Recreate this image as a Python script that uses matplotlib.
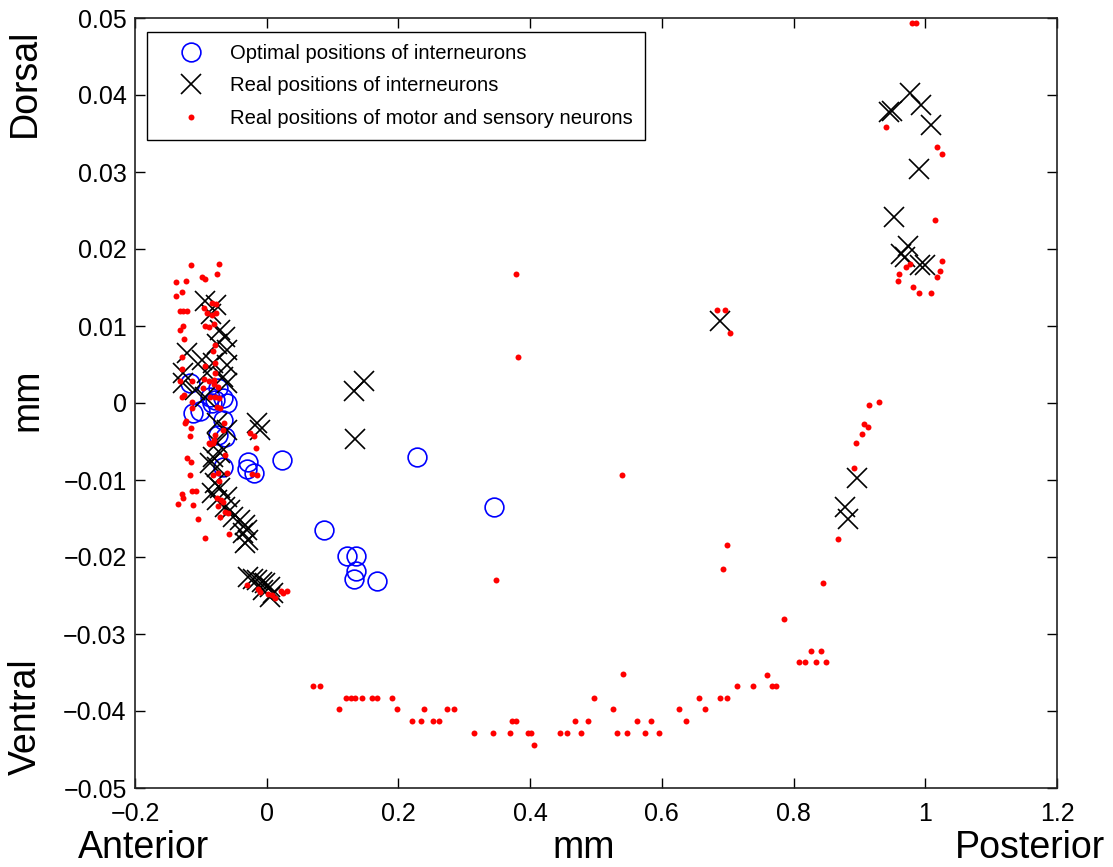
import matplotlib
matplotlib.use("Agg")
from matplotlib import pyplot as plt

# optimal positions of interneurons (blue circles)
opt_x = [-0.1165, -0.1115, -0.101, -0.086, -0.0735, -0.0785, -0.066, -0.061, -0.0836,
         -0.066, -0.0633, -0.0735, -0.066, -0.028, -0.030, -0.0189, 0.0237, 0.0875,
         0.1224, 0.135, 0.1356, 0.133, 0.168, 0.2277, 0.345]
opt_y = [0.0026, -0.0013, -0.0011, 0.0008, 0.0019, 0.0004, 0.0006, 0.0, 0.0,
         -0.0022, -0.0044, -0.0042, -0.0083, -0.0076, -0.0086, -0.0091, -0.0074, -0.0165,
         -0.0199, -0.0199, -0.0218, -0.0229, -0.0231, -0.0070, -0.0135]

# real positions of interneurons (black crosses)
inter_x = [-0.0937, -0.077, -0.085, -0.071, -0.0633, -0.076, -0.061, -0.1216, -0.0988,
           -0.081, -0.061, -0.1267, -0.091, -0.066, -0.1267, -0.061, -0.109, -0.094,
           -0.076, -0.061, -0.015, -0.010, -0.076, -0.081, -0.071, -0.086, -0.076,
           -0.0785, -0.0836, -0.071, -0.076, -0.061, -0.0633, -0.0557, -0.0507, -0.0406,
           -0.033, -0.030, -0.0355, -0.028, -0.033, -0.028, -0.0204, -0.015, -0.0076,
           -0.0026, 0.005, 0.010, -0.0052, 0.005,
           0.1325, 0.147, 0.134, 0.689,
           0.896, 0.878, 0.882, 0.977, 0.994, 0.945, 0.950, 1.008, 0.990, 0.953,
           0.973, 0.963, 0.969, 0.992, 1.000]
inter_y = [0.0132, 0.0127, 0.0115, 0.0095, 0.0086, 0.0077, 0.0069, 0.0065, 0.0056,
           0.0052, 0.0049, 0.0039, 0.0039, 0.0034, 0.0026, 0.0026, 0.0017, 0.0008,
           -0.0026, -0.0035, -0.0026, -0.0035, -0.0052, -0.0070, -0.0065, -0.0078, -0.0083,
           -0.0104, -0.0117, -0.0111, -0.0126, -0.0122, -0.0135, -0.0139, -0.0148, -0.0152,
           -0.0158, -0.0165, -0.0169, -0.0178, -0.0182, -0.0226, -0.0228, -0.0230, -0.0232,
           -0.0234, -0.0239, -0.0247, -0.0243, -0.0252,
           0.0015, 0.0029, -0.0047, 0.0106,
           -0.0098, -0.0135, -0.0151, 0.0403, 0.0387, 0.0378, 0.0379, 0.0361, 0.0304, 0.0242,
           0.0204, 0.0193, 0.0190, 0.0179, 0.0179]

# real positions of motor and sensory neurons (red dots)
ms_x = [-0.1154, -0.073, -0.099, -0.094, -0.076, -0.137, -0.123, -0.128, -0.137,
        -0.0836, -0.077, -0.131, -0.1215, -0.127, -0.095, -0.091, -0.0836, -0.077,
        -0.094, -0.088, -0.080, -0.127, -0.131, -0.125, -0.0785, -0.082, -0.129,
        -0.0785, -0.093, -0.129, -0.0785, -0.132, -0.095, -0.087, -0.0796, -0.114,
        -0.0735, -0.080, -0.0973, -0.129, -0.1256, -0.086, -0.0785, -0.072, -0.113,
        -0.075, -0.071, -0.114, -0.1226, -0.124, -0.0646, -0.1154, -0.067, -0.1165,
        -0.0785, -0.0796, -0.087, -0.025, -0.019, -0.0163,
        -0.1206, -0.115, -0.1165, -0.129, -0.1267, -0.134, -0.114, -0.1074, -0.1125,
        -0.105, -0.0937, -0.086, -0.081, -0.0633, -0.081, -0.0735, -0.061, -0.072,
        -0.076, -0.070, -0.066, -0.0735, -0.0633, -0.059, -0.071, -0.057,
        -0.023, -0.0152,
        -0.0295, -0.0128, -0.0102, 0.0024, 0.0076, 0.0126, 0.0212, 0.0303, 0.0252,
        0.070, 0.081, 0.110, 0.120, 0.1275, 0.1345, 0.145, 0.160, 0.167, 0.190,
        0.198, 0.220, 0.234, 0.239, 0.252, 0.261, 0.273, 0.284, 0.314, 0.343,
        0.369, 0.373, 0.378, 0.396, 0.402, 0.406, 0.445, 0.456, 0.468, 0.477,
        0.488, 0.497, 0.526, 0.532, 0.541, 0.547, 0.563, 0.575, 0.583, 0.596,
        0.626, 0.637, 0.657, 0.666, 0.688, 0.699, 0.7145, 0.7387, 0.759, 0.7677,
        0.7737, 0.786, 0.809, 0.818, 0.827, 0.834, 0.841, 0.849, 0.844, 0.868,
        0.3785, 0.3815, 0.539, 0.348, 0.699, 0.693, 0.683, 0.696, 0.703,
        0.914, 0.930, 0.907, 0.913, 0.904, 0.895, 0.891,
        0.980, 0.986, 0.940, 1.018, 1.025, 1.014, 1.025, 1.023, 1.018, 0.977,
        0.970, 0.960, 0.958, 0.981, 0.990, 1.008]
ms_y = [0.0179, 0.0181, 0.0164, 0.0161, 0.0168, 0.0157, 0.0159, 0.0144, 0.0139,
        0.0130, 0.0128, 0.0120, 0.0120, 0.0120, 0.0124, 0.0117, 0.0114, 0.0117,
        0.0100, 0.0099, 0.0103, 0.0100, 0.0095, 0.0083, 0.0075, 0.0068, 0.0060,
        0.0052, 0.0048, 0.0044, 0.0039, 0.0029, 0.0031, 0.0028, 0.0030, 0.0028,
        0.0021, 0.0025, 0.0019, 0.0008, 0.0010, 0.0008, 0.0008, 0.0007, 0.0001,
        -0.0005, -0.0006, -0.0006, -0.0023, -0.0026, -0.0026, -0.0033, -0.0035, -0.0043,
        -0.0042, -0.0048, -0.0052, -0.0039, -0.0043, -0.0058,
        -0.0072, -0.0077, -0.0094, -0.0118, -0.0124, -0.0131, -0.0114, -0.0114, -0.0133,
        -0.0150, -0.0175, -0.0053, -0.0052, -0.0068, -0.0094, -0.0091, -0.0091, -0.0101,
        -0.0124, -0.0126, -0.0128, -0.0134, -0.0141, -0.0143, -0.0148, -0.0170,
        -0.0092, -0.0094,
        -0.0236, -0.0242, -0.0245, -0.0248, -0.0249, -0.0253, -0.0244, -0.0244, -0.0247,
        -0.0368, -0.0368, -0.0398, -0.0383, -0.0383, -0.0383, -0.0383, -0.0383, -0.0383, -0.0383,
        -0.0398, -0.0413, -0.0413, -0.0398, -0.0413, -0.0413, -0.0398, -0.0398, -0.0429, -0.0429,
        -0.0429, -0.0413, -0.0413, -0.0429, -0.0429, -0.0444, -0.0429, -0.0429, -0.0413, -0.0429,
        -0.0413, -0.0383, -0.0398, -0.0429, -0.0352, -0.0429, -0.0413, -0.0429, -0.0413, -0.0429,
        -0.0398, -0.0413, -0.0383, -0.0398, -0.0383, -0.0383, -0.0368, -0.0368, -0.0353, -0.0368,
        -0.0368, -0.0280, -0.0337, -0.0337, -0.0322, -0.0337, -0.0322, -0.0337, -0.0234, -0.0176,
        0.0167, 0.0060, -0.0093, -0.0230, -0.0184, -0.0215, 0.0121, 0.0121, 0.0091,
        -0.0003, 0.0001, -0.0027, -0.0031, -0.0040, -0.0052, -0.0085,
        0.0494, 0.0494, 0.0358, 0.0333, 0.0324, 0.0238, 0.0184, 0.0171, 0.0163, 0.0180,
        0.0176, 0.0167, 0.0159, 0.0151, 0.0143, 0.0143]

x_ticks = [-0.2, 0, 0.2, 0.4, 0.6, 0.8, 1, 1.2]
x_tick_labels = ["\u22120.2", "0", "0.2", "0.4", "0.6", "0.8", "1", "1.2"]
y_ticks = [-0.05, -0.04, -0.03, -0.02, -0.01, 0, 0.01, 0.02, 0.03, 0.04, 0.05]
y_tick_labels = ["\u22120.05", "\u22120.04", "\u22120.03", "\u22120.02", "\u22120.01", "0",
                 "0.01", "0.02", "0.03", "0.04", "0.05"]

labels = ["Optimal positions of interneurons",
          "Real positions of interneurons",
          "Real positions of motor and sensory neurons"]

plt.rcParams["font.family"] = ["Liberation Sans", "DejaVu Sans"]

W, H = 1113, 867
fig = plt.figure(figsize=(W / 100, H / 100), dpi=100)
ax = fig.add_axes([135 / W, 1 - 788 / H, (1057 - 135) / W, (788 - 18) / H])

ax.plot(opt_x, opt_y, "o", linestyle="none", markersize=13.5, markerfacecolor="none",
        markeredgecolor="#0000ff", markeredgewidth=1.2, label=labels[0])
ax.plot(inter_x, inter_y, "x", linestyle="none", markersize=15, color="black",
        markeredgewidth=1.2, label=labels[1])
ax.plot(ms_x, ms_y, "o", linestyle="none", markersize=4.3, color="red",
        markeredgewidth=0, label=labels[2])

ax.set_xlim(-0.2, 1.2)
ax.set_ylim(-0.05, 0.05)
ax.set_xticks(x_ticks)
ax.set_xticklabels(x_tick_labels)
ax.set_yticks(y_ticks)
ax.set_yticklabels(y_tick_labels)
ax.tick_params(direction="in", length=7, width=1, top=True, right=True,
               labelsize=18, colors="black")
ax.tick_params(axis="x", pad=10)
ax.tick_params(axis="y", pad=6)
for s in ax.spines.values():
    s.set_linewidth(1.2)
    s.set_color("#222222")

leg = ax.legend(loc="upper left", bbox_to_anchor=(146.7 / W, 1 - 31.7 / H),
                bbox_transform=fig.transFigure, borderaxespad=0, fontsize=14.6,
                fancybox=False, edgecolor="black", framealpha=1,
                handlelength=3.2, handletextpad=0.3, labelspacing=0.66,
                borderpad=0.6, numpoints=1)
leg.get_frame().set_linewidth(1.0)

# axis side labels, MATLAB-style
fig.text(25 / W, 1 - 83 / H, "Dorsal", rotation=90, ha="center", va="center", fontsize=27)
fig.text(27 / W, 1 - 400 / H, "mm", rotation=90, ha="center", va="center", fontsize=27)
fig.text(26 / W, 1 - 717 / H, "Ventral", rotation=90, ha="center", va="center", fontsize=27)
fig.text(78 / W, 1 / H, "Anterior", ha="left", va="bottom", fontsize=27)
fig.text(584 / W, 1 / H, "mm", ha="center", va="bottom", fontsize=27)
fig.text(955 / W, 1 / H, "Posterior", ha="left", va="bottom", fontsize=27)

fig.savefig("out.png", dpi=100)
